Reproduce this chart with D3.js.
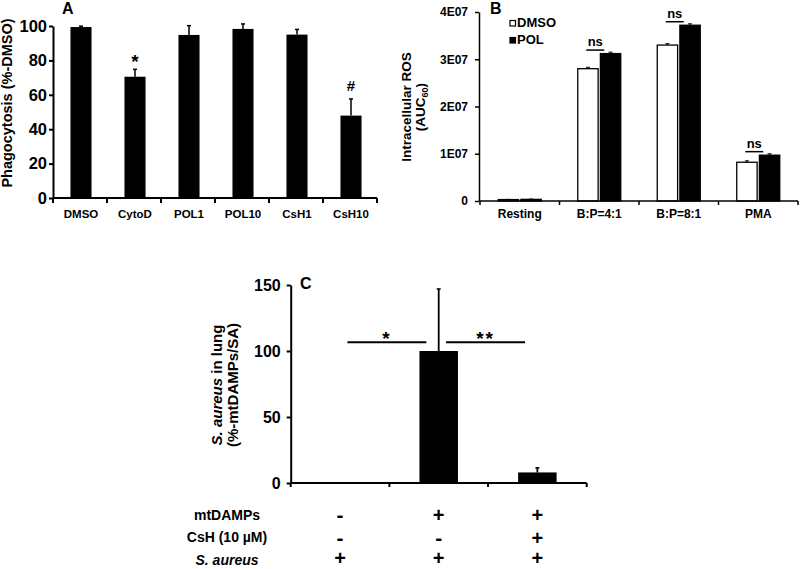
<!DOCTYPE html>
<html>
<head>
<meta charset="utf-8">
<script src="https://cdn.jsdelivr.net/npm/d3@7"></script>
<style>
  html, body { margin: 0; padding: 0; background: #fff; }
  svg { display: block; font-family: "Liberation Sans", Arial, sans-serif; font-weight: bold; }
</style>
</head>
<body>
<svg id="chart" width="800" height="569"></svg>
<script>
// ---------- Panel A data ----------
const catsA = ["DMSO", "CytoD", "POL1", "POL10", "CsH1", "CsH10"];
const valsA = [99.4, 70.5, 94.8, 98.3, 95.0, 47.9];
const errsA = [0.5, 4.3, 5.4, 2.9, 3.0, 9.7];
const ticksA = [0, 20, 40, 60, 80, 100];
const marksA = [{cat: "CytoD", text: "*", value: 75.5}, {cat: "CsH10", text: "#", value: 62.5}];

// ---------- Panel B data ----------
const catsB = ["Resting", "B:P=4:1", "B:P=8:1", "PMA"];
const seriesB = ["DMSO", "POL"];
const dmsoB = [0.03e7, 2.80e7, 3.30e7, 0.82e7];
const polB = [0.035e7, 3.12e7, 3.72e7, 0.97e7];
const dmsoErrB = [0.005e7, 0.03e7, 0.03e7, 0.03e7];
const polErrB = [0.005e7, 0.03e7, 0.03e7, 0.03e7];
const ticksB = [0, 1e7, 2e7, 3e7, 4e7];
const tickLabelsB = ["0", "1E07", "2E07", "3E07", "4E07"];
const nsB = ["B:P=4:1", "B:P=8:1", "PMA"];

// ---------- Panel C data ----------
const catsC = ["SA", "mtDAMPs+SA", "mtDAMPs+CsH+SA"];
const valsC = [0.5, 100, 8];
const errsC = [0, 47, 3.5];
const ticksC = [0, 50, 100, 150];
const sigC = [{from: 0, to: 1, text: "*", value: 106.6}, {from: 1, to: 2, text: "**", value: 106.6}];
const rowLabelsC = ["mtDAMPs", "CsH (10 µM)", "S. aureus"];
const rowSignsC = [["-", "+", "+"], ["-", "-", "+"], ["+", "+", "+"]];

const svg = d3.select("#chart");

function bottomTicks(g, scale, y0, len, sw) {
  const pos = scale.domain().map(d => scale(d)).concat([scale.range()[1]]);
  g.append("line").attr("x1", scale.range()[0]).attr("x2", scale.range()[1])
    .attr("y1", y0).attr("y2", y0).attr("stroke", "#000").attr("stroke-width", sw);
  g.selectAll(null).data(pos).enter().append("line")
    .attr("x1", d => d).attr("x2", d => d).attr("y1", y0).attr("y2", y0 + len)
    .attr("stroke", "#000").attr("stroke-width", sw);
}

function styleAxis(g, size, sw) {
  g.select(".domain").attr("stroke-width", sw);
  g.selectAll(".tick line").attr("stroke-width", sw);
  g.selectAll(".tick text").attr("font-size", size).attr("font-weight", "bold")
    .attr("font-family", "Liberation Sans, Arial, sans-serif").attr("fill", "#000");
}

// ================= PANEL A =================
{
  const x0 = d3.scaleBand().domain(catsA).range([53, 377]).padding(0);
  const barFrac = 0.39;
  const y = d3.scaleLinear().domain([0, 100]).range([198, 26]);
  const g = svg.append("g");
  const bw = x0.bandwidth() * barFrac;
  const cx = d => x0(d) + x0.bandwidth() / 2 + 1;

  g.selectAll("rect").data(catsA).enter().append("rect")
    .attr("x", d => cx(d) - bw / 2).attr("width", bw)
    .attr("y", (d, i) => y(valsA[i])).attr("height", (d, i) => y(0) - y(valsA[i]))
    .attr("fill", "#000");
  catsA.forEach((d, i) => {
    const top = y(valsA[i] + errsA[i]);
    g.append("line").attr("x1", cx(d)).attr("x2", cx(d)).attr("y1", y(valsA[i])).attr("y2", top)
      .attr("stroke", "#000").attr("stroke-width", 1.5);
    g.append("line").attr("x1", cx(d) - 2).attr("x2", cx(d) + 2).attr("y1", top).attr("y2", top)
      .attr("stroke", "#000").attr("stroke-width", 1.5);
  });
  const ya = g.append("g").attr("transform", "translate(53,0)")
    .call(d3.axisLeft(y).tickValues(ticksA).tickSize(4).tickSizeOuter(0).tickPadding(2));
  styleAxis(ya, 16.5, 2);
  bottomTicks(g, x0, 198, 5, 2);
  g.selectAll(".catA").data(catsA).enter().append("text")
    .attr("x", d => cx(d)).attr("y", 218).attr("text-anchor", "middle")
    .attr("font-size", 11.5).text(d => d);
  marksA.forEach(m => {
    g.append("text").attr("x", cx(m.cat)).attr("y", y(m.value)).attr("text-anchor", "middle")
      .attr("font-size", m.text === "*" ? 19 : 15).text(m.text);
  });
  g.append("text").attr("transform", "translate(12,103) rotate(-90)").attr("text-anchor", "middle")
    .attr("font-size", 14.5).text("Phagocytosis (%-DMSO)");
  g.append("text").attr("x", 62).attr("y", 14).attr("font-size", 16).text("A");
}

// ================= PANEL B =================
{
  const x0 = d3.scaleBand().domain(catsB).range([480, 798]).padding(0);
  const groupW = 43;
  const x1 = d3.scaleBand().domain(seriesB).range([0, groupW]).paddingInner(0.1);
  const y = d3.scaleLinear().domain([0, 4e7]).range([201, 12]);
  const g = svg.append("g");
  const gx = d => x0(d) + (x0.bandwidth() - groupW) / 2;
  const data = [dmsoB, polB];
  const errs = [dmsoErrB, polErrB];

  seriesB.forEach((s, si) => {
    catsB.forEach((c, ci) => {
      const v = data[si][ci];
      const xx = gx(c) + x1(s);
      g.append("rect").attr("x", xx).attr("width", x1.bandwidth())
        .attr("y", y(v)).attr("height", y(0) - y(v))
        .attr("fill", si === 0 ? "#fff" : "#000").attr("stroke", "#000").attr("stroke-width", 1.3);
      const top = y(v + errs[si][ci]);
      const mx = xx + x1.bandwidth() / 2;
      g.append("line").attr("x1", mx).attr("x2", mx).attr("y1", y(v)).attr("y2", top)
        .attr("stroke", "#000").attr("stroke-width", 1);
      g.append("line").attr("x1", mx - 2).attr("x2", mx + 2).attr("y1", top).attr("y2", top)
        .attr("stroke", "#000").attr("stroke-width", 1);
    });
  });
  const yb = g.append("g").attr("transform", "translate(479,0)")
    .call(d3.axisLeft(y).tickValues(ticksB).tickSize(4).tickSizeOuter(0).tickPadding(7)
      .tickFormat((d, i) => tickLabelsB[i]));
  styleAxis(yb, 12, 1.5);
  bottomTicks(g, x0, 201, 4, 1.5);
  g.selectAll(".catB").data(catsB).enter().append("text")
    .attr("x", d => x0(d) + x0.bandwidth() / 2).attr("y", 218).attr("text-anchor", "middle")
    .attr("font-size", 12).text(d => d);
  nsB.forEach(c => {
    const ci = catsB.indexOf(c);
    const ly = y(polB[ci]) - 3.5;
    const mid = x0(c) + x0.bandwidth() / 2 - 4;
    g.append("line").attr("x1", mid - 9).attr("x2", mid + 9).attr("y1", ly).attr("y2", ly)
      .attr("stroke", "#000").attr("stroke-width", 1.5);
    g.append("text").attr("x", mid).attr("y", ly - 4).attr("text-anchor", "middle")
      .attr("font-size", 13).text("ns");
  });
  seriesB.forEach((s, i) => {
    g.append("rect").attr("x", 510).attr("y", 20.5 + i * 17).attr("width", 5.5).attr("height", 5.5)
      .attr("fill", i === 0 ? "#fff" : "#000").attr("stroke", "#000").attr("stroke-width", 1.2);
    g.append("text").attr("x", 517).attr("y", 27 + i * 17).attr("font-size", 13).text(s);
  });
  g.append("text").attr("transform", "translate(411,107) rotate(-90)").attr("text-anchor", "middle")
    .attr("font-size", 13.5).text("Intracellular ROS");
  const t2 = g.append("text").attr("transform", "translate(425,107) rotate(-90)").attr("text-anchor", "middle")
    .attr("font-size", 13.5);
  t2.append("tspan").text("(AUC");
  t2.append("tspan").attr("font-size", 9).attr("dy", 3).text("60");
  t2.append("tspan").attr("dy", -3).text(")");
  g.append("text").attr("x", 490).attr("y", 14).attr("font-size", 16).text("B");
}

// ================= PANEL C =================
{
  const x0 = d3.scaleBand().domain(catsC).range([290.7, 586.7]).padding(0);
  const barFrac = 0.39;
  const y = d3.scaleLinear().domain([0, 150]).range([483, 285]);
  const g = svg.append("g");
  const bw = x0.bandwidth() * barFrac;
  const cx = d => x0(d) + x0.bandwidth() / 2;

  g.selectAll("rect").data(catsC).enter().append("rect")
    .attr("x", d => cx(d) - bw / 2).attr("width", bw)
    .attr("y", (d, i) => y(valsC[i])).attr("height", (d, i) => y(0) - y(valsC[i]))
    .attr("fill", "#000");
  catsC.forEach((d, i) => {
    if (errsC[i] <= 0) return;
    const top = y(valsC[i] + errsC[i]);
    g.append("line").attr("x1", cx(d)).attr("x2", cx(d)).attr("y1", y(valsC[i])).attr("y2", top)
      .attr("stroke", "#000").attr("stroke-width", 1.8);
    g.append("line").attr("x1", cx(d) - 2).attr("x2", cx(d) + 2).attr("y1", top).attr("y2", top)
      .attr("stroke", "#000").attr("stroke-width", 1.5);
  });
  const yc = g.append("g").attr("transform", "translate(290.7,0)")
    .call(d3.axisLeft(y).tickValues(ticksC).tickSize(4).tickSizeOuter(0).tickPadding(6));
  styleAxis(yc, 16, 2);
  bottomTicks(g, x0, 483, 4, 2);
  sigC.forEach(s => {
    const xa = x0(catsC[s.from]) + x0.bandwidth() * 0.575;
    const xb = x0(catsC[s.to]) + x0.bandwidth() * 0.375;
    const ly = y(s.value);
    g.append("line").attr("x1", xa).attr("x2", xb).attr("y1", ly).attr("y2", ly)
      .attr("stroke", "#000").attr("stroke-width", 2);
    g.append("text").attr("x", (xa + xb) / 2).attr("y", ly + 2.5).attr("text-anchor", "middle")
      .attr("font-size", 19).attr("letter-spacing", 2).text(s.text);
  });
  const t1 = g.append("text").attr("transform", "translate(222,385) rotate(-90)").attr("text-anchor", "middle")
    .attr("font-size", 15);
  t1.append("tspan").attr("font-style", "italic").text("S. aureus");
  t1.append("tspan").text(" in lung");
  g.append("text").attr("transform", "translate(238,385) rotate(-90)").attr("text-anchor", "middle")
    .attr("font-size", 15).text("(%-mtDAMPs/SA)");
  g.append("text").attr("x", 300).attr("y", 289).attr("font-size", 16).text("C");
  const rowY = [519.5, 542, 565];
  const signY = [521.5, 544.5, 565];
  rowLabelsC.forEach((lab, r) => {
    const t = g.append("text").attr("x", 227).attr("y", rowY[r]).attr("text-anchor", "middle")
      .attr("font-size", 14);
    if (lab === "S. aureus") t.attr("font-style", "italic");
    t.text(lab);
    rowSignsC[r].forEach((s, c) => {
      g.append("text").attr("x", cx(catsC[c])).attr("y", signY[r]).attr("text-anchor", "middle")
        .attr("font-size", s === "+" ? 20 : 21).text(s);
    });
  });
}
</script>
</body>
</html>
